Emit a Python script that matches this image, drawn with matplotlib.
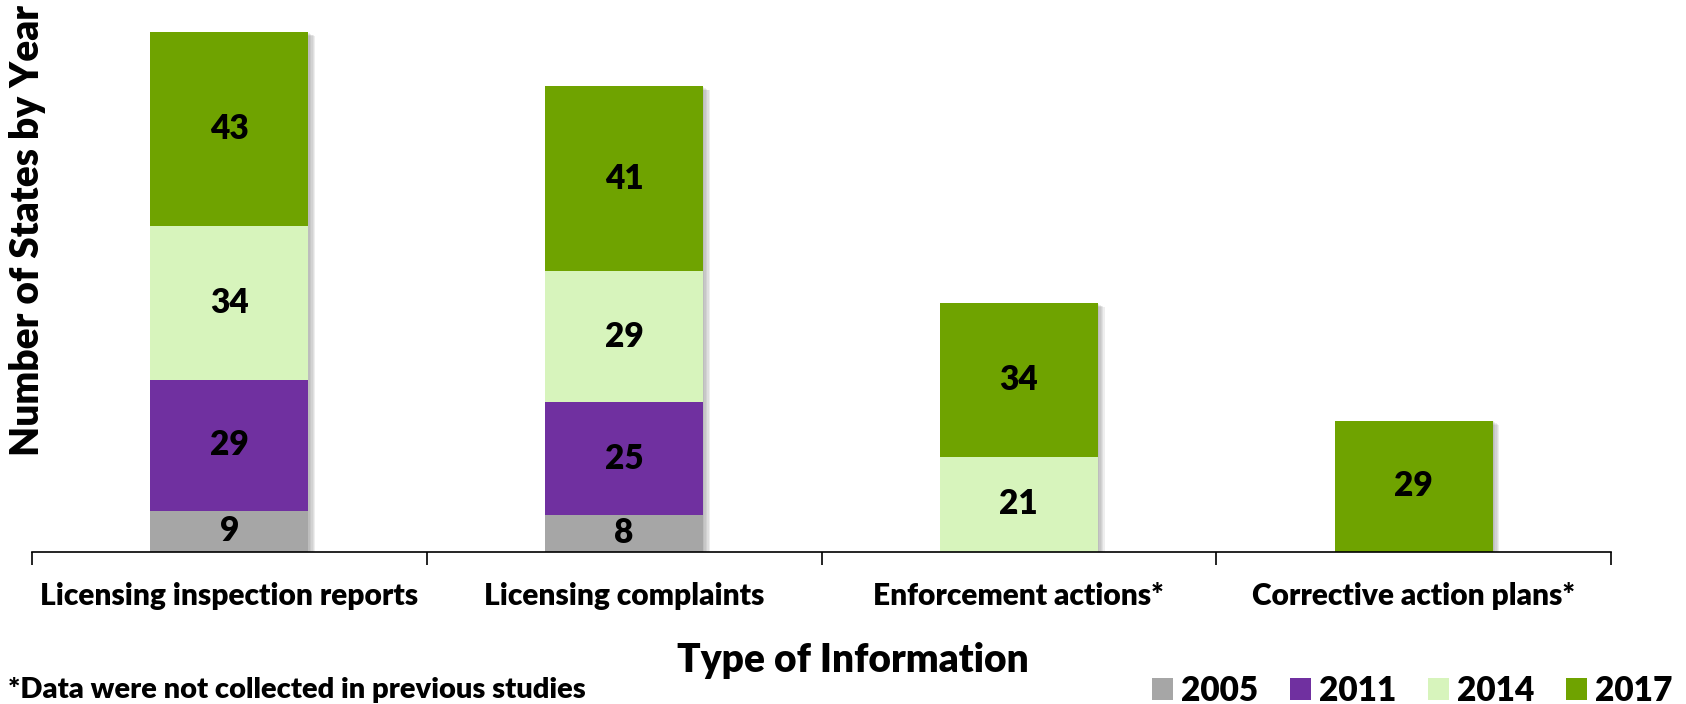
import numpy as np
import matplotlib.pyplot as plt
import matplotlib.patheffects as pe
from matplotlib.patches import Patch

plt.rcParams['font.family'] = ['Lato', 'DejaVu Sans']
WEIGHT = 'heavy'

categories = ['Licensing inspection reports', 'Licensing complaints',
              'Enforcement actions*', 'Corrective action plans*']
years = ['2005', '2011', '2014', '2017']
v2005 = [9, 8, 0, 0]
v2011 = [29, 25, 0, 0]
v2014 = [34, 29, 21, 0]
v2017 = [43, 41, 34, 29]
colors = ['#A6A6A6', '#7030A0', '#D7F4BC', '#6FA300']

fig = plt.figure(figsize=(16.86, 7.04), dpi=100)
ax = fig.add_axes([0.019, 0.2166, 0.9365, 0.77])

x = np.arange(len(categories))
series = [v2005, v2011, v2014, v2017]
totals = np.sum(np.array(series, dtype=float), axis=0)

# soft drop shadow behind each whole stack
soft = [pe.SimplePatchShadow(offset=(d, -d * 0.6), shadow_rgbFace='#7f7f7f', alpha=0.13)
        for d in (1, 2, 3, 4, 5)]
ax.bar(x, totals, width=0.40, color='white', edgecolor='none', path_effects=soft, zorder=1)

bottom = np.zeros(len(categories))
for year, vals, col in zip(years, series, colors):
    vals = np.array(vals, dtype=float)
    ax.bar(x, vals, width=0.40, bottom=bottom, color=col, edgecolor='none', zorder=2)
    for xi, b, v in zip(x, bottom, vals):
        if v > 0:
            ax.text(xi, b + v / 2, f'{int(v)}', ha='center', va='center',
                    fontsize=24, fontweight=WEIGHT, color='black', zorder=3)
    bottom += vals

ax.set_xlim(-0.5, len(categories) - 0.5)
ax.set_ylim(0, 120)

for s in ['top', 'right', 'left']:
    ax.spines[s].set_visible(False)
ax.spines['bottom'].set_linewidth(1.2)
ax.spines['bottom'].set_zorder(4)
ax.set_yticks([])

ax.set_xticks(x)
ax.set_xticklabels(categories, fontsize=21.5, fontweight=WEIGHT)
ax.set_xticks(np.arange(-0.5, len(categories)), minor=True)
ax.tick_params(axis='x', which='major', length=0, pad=22)
ax.tick_params(axis='x', which='minor', length=9, width=1.2, direction='out')

fig.text(0.0165, 0.672, 'Number of States by Year', rotation=90, ha='center', va='center',
         fontsize=28, fontweight=WEIGHT)
fig.text(0.506, 0.062, 'Type of Information', ha='center', va='center',
         fontsize=28, fontweight=WEIGHT)
fig.text(0.005, 0.002, '*Data were not collected in previous studies', ha='left', va='bottom',
         fontsize=21, fontweight=WEIGHT)

handles = [Patch(facecolor=c, edgecolor='none') for c in colors]
fig.legend(handles, years, loc='lower right', bbox_to_anchor=(0.992, -0.004), ncol=4,
           frameon=False, handlelength=0.62, handleheight=0.62, borderpad=0,
           borderaxespad=0, handletextpad=0.25, columnspacing=0.95,
           prop={'weight': WEIGHT, 'size': 24})

fig.savefig('out.png', dpi=100)
